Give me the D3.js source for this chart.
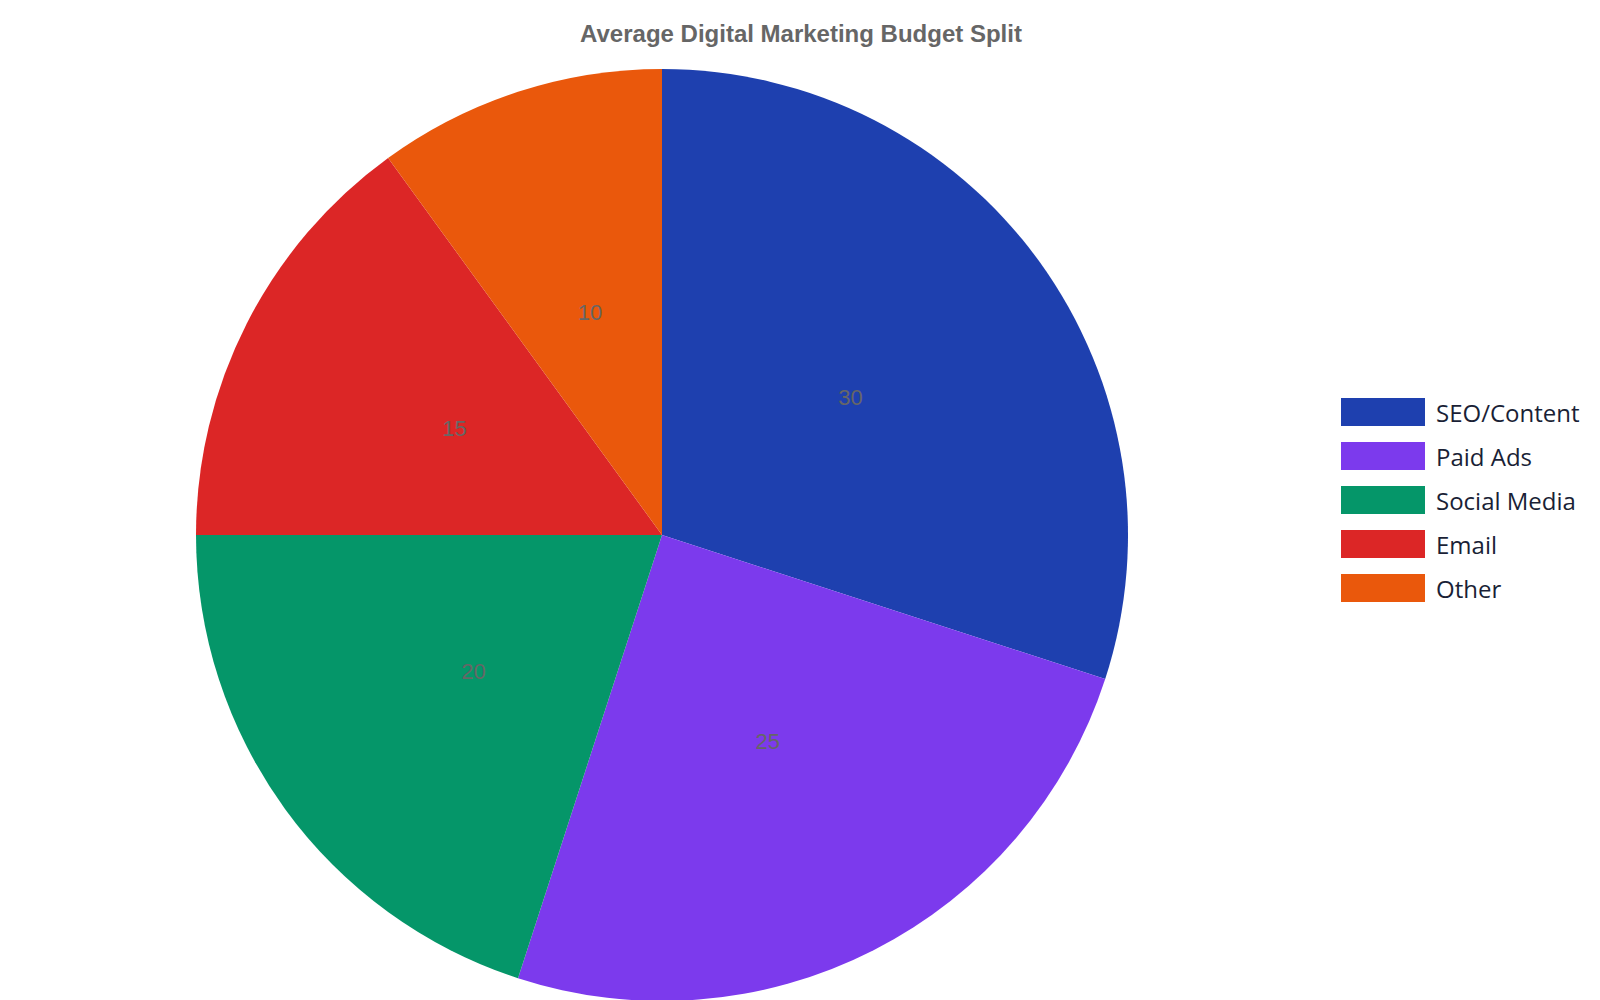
<!DOCTYPE html>
<html>
<head>
<meta charset="utf-8">
<script src="https://cdn.jsdelivr.net/npm/d3@7"></script>
<style>
  body { margin: 0; background: #fff; }
</style>
</head>
<body>
<div id="chart"></div>
<script>
const categories = ["SEO/Content", "Paid Ads", "Social Media", "Email", "Other"]
const values = [30, 25, 20, 15, 10]
const colors = ["#1e40af", "#7c3aed", "#059669", "#dc2626", "#ea580c"]

const w = 1600
const h = 1000

const svg = d3.select("#chart")
  .append("svg")
  .attr("width", w)
  .attr("height", h)

// title
svg.append("text")
  .attr("x", 801)
  .attr("y", 42)
  .attr("text-anchor", "middle")
  .attr("font-family", "'Liberation Sans', Arial, sans-serif")
  .attr("font-weight", "bold")
  .attr("font-size", 24)
  .attr("fill", "#666")
  .text("Average Digital Marketing Budget Split")

const cx = 662, cy = 535, r = 466

const color = d3.scaleOrdinal().domain(categories).range(colors)

const pie = d3.pie().sort(null).value(d => d.value)
const arc = d3.arc().innerRadius(0).outerRadius(r)

const data = categories.map((c, i) => ({ name: c, value: values[i] }))

const g = svg.append("g").attr("transform", `translate(${cx},${cy})`)

const slices = g.selectAll("g.slice")
  .data(pie(data))
  .enter()
  .append("g")
  .attr("class", "slice")

slices.append("path")
  .attr("d", arc)
  .attr("fill", d => color(d.data.name))

// value labels at slice centroids
slices.append("text")
  .attr("transform", d => `translate(${arc.centroid(d)})`)
  .attr("text-anchor", "middle")
  .attr("dy", "0.3em")
  .attr("font-family", "'Liberation Sans', Arial, sans-serif")
  .attr("font-size", 22)
  .attr("fill", "#666")
  .text(d => d.data.value)

// legend
const legend = svg.append("g").attr("transform", "translate(1341,398)")
const item = legend.selectAll("g")
  .data(categories)
  .enter()
  .append("g")
  .attr("transform", (d, i) => `translate(0,${i * 44})`)

item.append("rect")
  .attr("width", 84)
  .attr("height", 28)
  .attr("fill", d => color(d))

item.append("text")
  .attr("x", 95)
  .attr("y", 23.5)
  .attr("font-family", "'Open Sans', 'Noto Sans', sans-serif")
  .attr("font-size", 24)
  .attr("fill", "#1a1f36")
  .text(d => d)
</script>
</body>
</html>
